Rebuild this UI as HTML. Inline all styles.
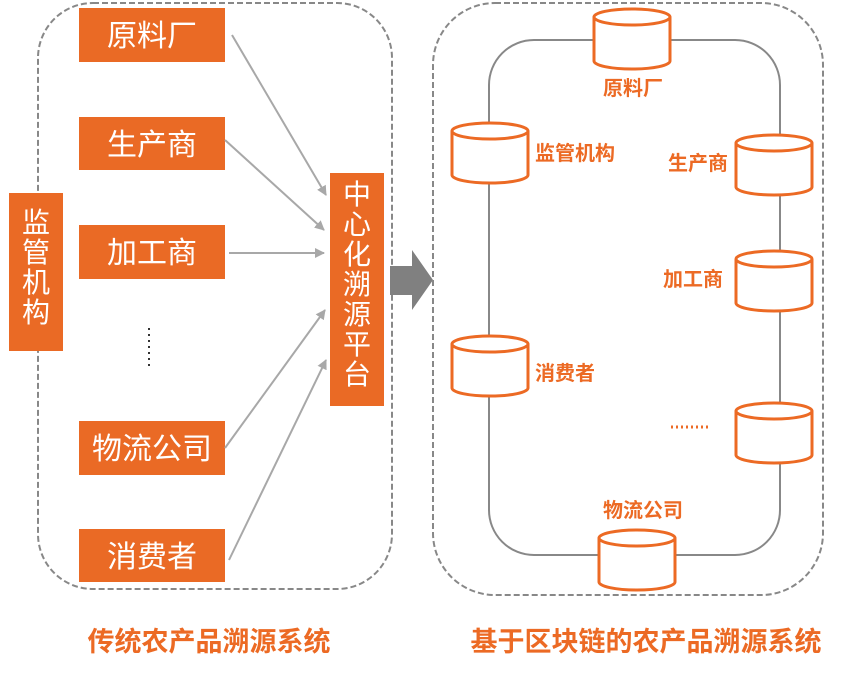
<!DOCTYPE html>
<html><head><meta charset="utf-8"><style>
html,body{margin:0;padding:0;background:#fff}
svg{display:block}
text{font-family:"Liberation Sans","Noto Sans CJK SC",sans-serif}
</style></head><body>
<svg width="866" height="697" viewBox="0 0 866 697" xmlns="http://www.w3.org/2000/svg">
<defs>
<marker id="ah" markerWidth="10" markerHeight="10" refX="9" refY="5" orient="auto" markerUnits="userSpaceOnUse">
<path d="M0,0 L10,5 L0,10 z" fill="#a8a8a8"/></marker>
<g id="cyl">
<path d="M-38,-22 L-38,22 A38,8 0 0 0 38,22 L38,-22" fill="#fff" stroke="#ec6a24" stroke-width="3"/>
<ellipse cx="0" cy="-22" rx="38" ry="8" fill="#fff" stroke="#ec6a24" stroke-width="3"/>
</g>
</defs>
<rect x="38" y="3" width="354" height="586" rx="55" fill="none" stroke="#888" stroke-width="2" stroke-dasharray="6,3"/>
<g fill="#ea6a25">
<rect x="79" y="8" width="146" height="54"/>
<rect x="79" y="117" width="146" height="53"/>
<rect x="79" y="225" width="146" height="54"/>
<rect x="79" y="421" width="146" height="54"/>
<rect x="79" y="529" width="146" height="53"/>
<rect x="9" y="193" width="54" height="158"/>
<rect x="330" y="173" width="54" height="233"/>
</g>
<g fill="#fff" font-size="30" text-anchor="middle">
<text x="152" y="46">原料厂</text>
<text x="152" y="155">生产商</text>
<text x="152" y="263">加工商</text>
<text x="152" y="459">物流公司</text>
<text x="152" y="567">消费者</text>
</g>
<g fill="#fff" font-size="28" text-anchor="middle">
<text x="36" y="232">监</text><text x="36" y="262">管</text><text x="36" y="292">机</text><text x="36" y="322">构</text>
<text x="357" y="204">中</text><text x="357" y="234">心</text><text x="357" y="264">化</text><text x="357" y="294">溯</text><text x="357" y="324">源</text><text x="357" y="354">平</text><text x="357" y="384">台</text>
</g>
<g stroke="#a8a8a8" stroke-width="2" fill="none" marker-end="url(#ah)">
<line x1="232" y1="35" x2="326" y2="195"/>
<line x1="225" y1="140" x2="324" y2="230"/>
<line x1="229" y1="253" x2="324" y2="253"/>
<line x1="225" y1="448" x2="325" y2="310"/>
<line x1="229" y1="560" x2="326" y2="360"/>
</g>
<line x1="149" y1="328" x2="149" y2="370" stroke="#333" stroke-width="2" stroke-dasharray="2,4"/>
<path d="M390,266 L412,266 L412,250 L433,280 L412,310 L412,295 L390,295 z" fill="#808080"/>
<rect x="433" y="3" width="390" height="592" rx="62" fill="none" stroke="#888" stroke-width="2" stroke-dasharray="6,3"/>
<rect x="489" y="40" width="291" height="515" rx="45" fill="none" stroke="#888" stroke-width="2"/>
<use href="#cyl" x="632" y="39"/>
<use href="#cyl" x="490" y="153"/>
<use href="#cyl" x="774" y="165"/>
<use href="#cyl" x="774" y="281"/>
<use href="#cyl" x="490" y="366"/>
<use href="#cyl" x="774" y="433"/>
<use href="#cyl" x="637" y="560"/>
<g fill="#ec6a24" font-size="20" font-weight="bold">
<text x="633" y="95" text-anchor="middle">原料厂</text>
<text x="535" y="160">监管机构</text>
<text x="728" y="170" text-anchor="end">生产商</text>
<text x="723" y="286" text-anchor="end">加工商</text>
<text x="535" y="380">消费者</text>
<text x="643" y="517" text-anchor="middle">物流公司</text>
</g>
<line x1="671" y1="427" x2="711" y2="427" stroke="#ec6a24" stroke-width="3" stroke-dasharray="2,3"/>
<g fill="#ec6a24" font-size="27" font-weight="bold" text-anchor="middle">
<text x="209" y="651">传统农产品溯源系统</text>
<text x="646" y="651">基于区块链的农产品溯源系统</text>
</g>
</svg>
</body></html>
